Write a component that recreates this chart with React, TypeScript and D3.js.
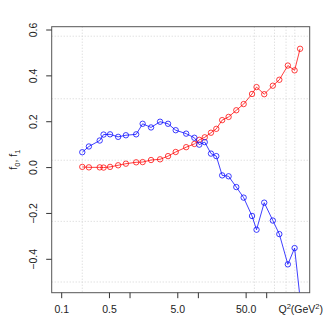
import React from 'react';
import * as d3 from 'd3';

// Q^2 values (GeV^2), shared by both series
const q2 = [0.2, 0.25, 0.36, 0.41, 0.51, 0.67, 0.87, 1.23, 1.53, 2.03, 2.75, 3.6, 4.66, 6.63, 8.74,
  10.3, 12.4, 15.3, 18.3, 22.3, 27.7, 35.9, 46, 61, 71, 92, 123, 153, 204, 256, 308];

const f0 = [0.003, 0.001, 0.001, 0.0, 0.003, 0.01, 0.017, 0.023, 0.024, 0.033, 0.036, 0.05, 0.068, 0.089, 0.103,
  0.121, 0.132, 0.152, 0.169, 0.207, 0.221, 0.25, 0.277, 0.321, 0.351, 0.32, 0.357, 0.383, 0.445, 0.424, 0.518];

const f1 = [0.067, 0.092, 0.118, 0.144, 0.145, 0.134, 0.141, 0.145, 0.191, 0.175, 0.2, 0.191, 0.163, 0.148, 0.13,
  0.1, 0.111, 0.061, 0.05, -0.034, -0.038, -0.085, -0.131, -0.211, -0.271, -0.153, -0.231, -0.29, -0.422, -0.351, -0.57];

const xTicks = [0.1, 0.5, 1, 5, 10, 50, 100];
const xLabels: Record<number, string> = { 0.1: '0.1', 0.5: '0.5', 5: '5.0', 50: '50.0' };
const yTicks = [-0.4, -0.2, 0, 0.2, 0.4, 0.6];
const xGrid = [0.2, 66, 130, 192, 258];
const yGrid = [0.573, 0.3, 0.032, -0.2345, -0.499];

const W = 325, H = 317;
const box = { left: 51.7, right: 309.7, top: 26.7, bottom: 292.7 };
const font = '"Liberation Sans", Arial, sans-serif';

export default function App() {
  const x = d3.scaleLog().domain([0.1, 100]).range([61.7, 266.7]);
  const y = d3.scaleLinear().domain([-0.4, 0.6]).range([259.3, 30]);

  const line = d3.line<number>()
    .x((_, i) => x(q2[i]))
    .y(d => y(d));

  const series = [
    { values: f0, color: 'rgba(255,0,0,0.75)' },
    { values: f1, color: 'rgba(0,0,255,0.75)' },
  ];

  return (
    <svg width={W} height={H} style={{ position: 'absolute', left: 0, top: 0, background: '#fff' }}
      fontFamily={font}>
      <defs>
        <clipPath id="plot">
          <rect x={box.left} y={box.top} width={box.right - box.left} height={box.bottom - box.top} />
        </clipPath>
      </defs>

      {/* grid */}
      <g stroke="#d3d3d3" strokeWidth={1} strokeDasharray="1,2">
        {xGrid.map(g => (
          <line key={'gx' + g} x1={x(g)} x2={x(g)} y1={box.top} y2={box.bottom} />
        ))}
        {yGrid.map(g => (
          <line key={'gy' + g} x1={box.left} x2={box.right} y1={y(g)} y2={y(g)} />
        ))}
      </g>

      {/* series */}
      <g clipPath="url(#plot)">
        {series.map((s, k) => (
          <g key={k}>
            <path d={line(s.values) || ''} fill="none" stroke={s.color} strokeWidth={1} />
            {s.values.map((v, i) => (
              <circle key={i} cx={x(q2[i])} cy={y(v)} r={2.7} fill="none" stroke={s.color} strokeWidth={1} />
            ))}
          </g>
        ))}
      </g>

      {/* box */}
      <rect x={box.left} y={box.top} width={box.right - box.left} height={box.bottom - box.top}
        fill="none" stroke="#555" strokeWidth={1} />

      {/* x axis */}
      <g stroke="#333" strokeWidth={1}>
        {xTicks.map(t => (
          <line key={'xt' + t} x1={x(t)} x2={x(t)} y1={box.bottom} y2={box.bottom + 5.5} />
        ))}
        {yTicks.map(t => (
          <line key={'yt' + t} x1={box.left} x2={box.left - 5.5} y1={y(t)} y2={y(t)} />
        ))}
      </g>
      <g fontSize={10.5} fill="#222" textAnchor="middle">
        {xTicks.filter(t => xLabels[t]).map(t => (
          <text key={'xl' + t} x={x(t)} y={313}>{xLabels[t]}</text>
        ))}
        {yTicks.map(t => (
          <text key={'yl' + t} transform={`translate(37,${y(t)}) rotate(-90)`}>{d3.format('.1f')(t)}</text>
        ))}
      </g>

      {/* axis titles */}
      <text x={323} y={313} fontSize={10.5} fill="#222" textAnchor="end">
        Q<tspan dy={-4} fontSize={7.5}>2</tspan><tspan dy={4}>(GeV</tspan><tspan dy={-4} fontSize={7.5}>2</tspan><tspan dy={4}>)</tspan>
      </text>
      <text transform={`translate(17,${(box.top + box.bottom) / 2}) rotate(-90)`} fontSize={10.5} fill="#222" textAnchor="middle">
        f<tspan dy={3} fontSize={7.5}>0</tspan><tspan dy={-3}>,  f</tspan><tspan dy={3} fontSize={7.5}>1</tspan>
      </text>
    </svg>
  );
}
